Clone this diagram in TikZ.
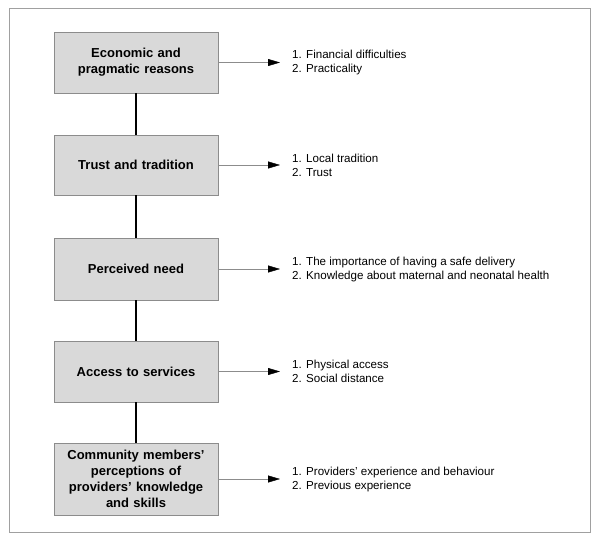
\documentclass[tikz,border=0pt]{standalone}
\usepackage{fontspec}
\setmainfont{Liberation Sans}
\usetikzlibrary{arrows.meta}
\definecolor{boxgray}{HTML}{D9D9D9}
\definecolor{edgegray}{HTML}{8C8C8C}
\definecolor{framegray}{HTML}{A0A0A0}
\begin{document}
\begin{tikzpicture}
[x=1pt, y=-1pt,
 box/.style={draw=edgegray, fill=boxgray, minimum width=164pt, text width=160pt, align=center, inner sep=0pt, font=\fontsize{13}{16}\selectfont\bfseries},
 list/.style={right, align=left, inner sep=0pt, font=\fontsize{11.6}{14}\selectfont},
 link/.style={line width=2pt},
 arr/.style={draw=edgegray, -{Triangle[length=12pt, width=7pt, color=black]}}]
\useasboundingbox (0,0) rectangle (600,542);
\draw [framegray] (9,8) rectangle (590,532);
% boxes
\node [box, minimum height=61pt] (econ) at (136,62.5) {Economic and\\pragmatic reasons};
\node [box, minimum height=60pt] (trust) at (136,165) {Trust and tradition};
\node [box, minimum height=62pt] (need) at (136,269) {Perceived need};
\node [box, minimum height=61pt] (access) at (136,371.5) {Access to services};
\node [box, minimum height=72pt] (percep) at (136,479) {Community members’\\perceptions of\\providers’ knowledge\\and skills};
% lists
\node [list] (econlist) at (292,62.5) {1. Financial difficulties\\2. Practicality};
\node [list] (trustlist) at (292,165) {1. Local tradition\\2. Trust};
\node [list] (needlist) at (292,269) {1. The importance of having a safe delivery\\2. Knowledge about maternal and neonatal health};
\node [list] (accesslist) at (292,371.5) {1. Physical access\\2. Social distance};
\node [list] (perceplist) at (292,479) {1. Providers’ experience and behaviour\\2. Previous experience};
% links
\draw [link] (econ) -- (trust);
\draw [link] (trust) -- (need);
\draw [link] (need) -- (access);
\draw [link] (access) -- (percep);
% arrows
\draw [arr] (econ.east) -- ([xshift=-12pt]econlist.west);
\draw [arr] (trust.east) -- ([xshift=-12pt]trustlist.west);
\draw [arr] (need.east) -- ([xshift=-12pt]needlist.west);
\draw [arr] (access.east) -- ([xshift=-12pt]accesslist.west);
\draw [arr] (percep.east) -- ([xshift=-12pt]perceplist.west);
\end{tikzpicture}
\end{document}
